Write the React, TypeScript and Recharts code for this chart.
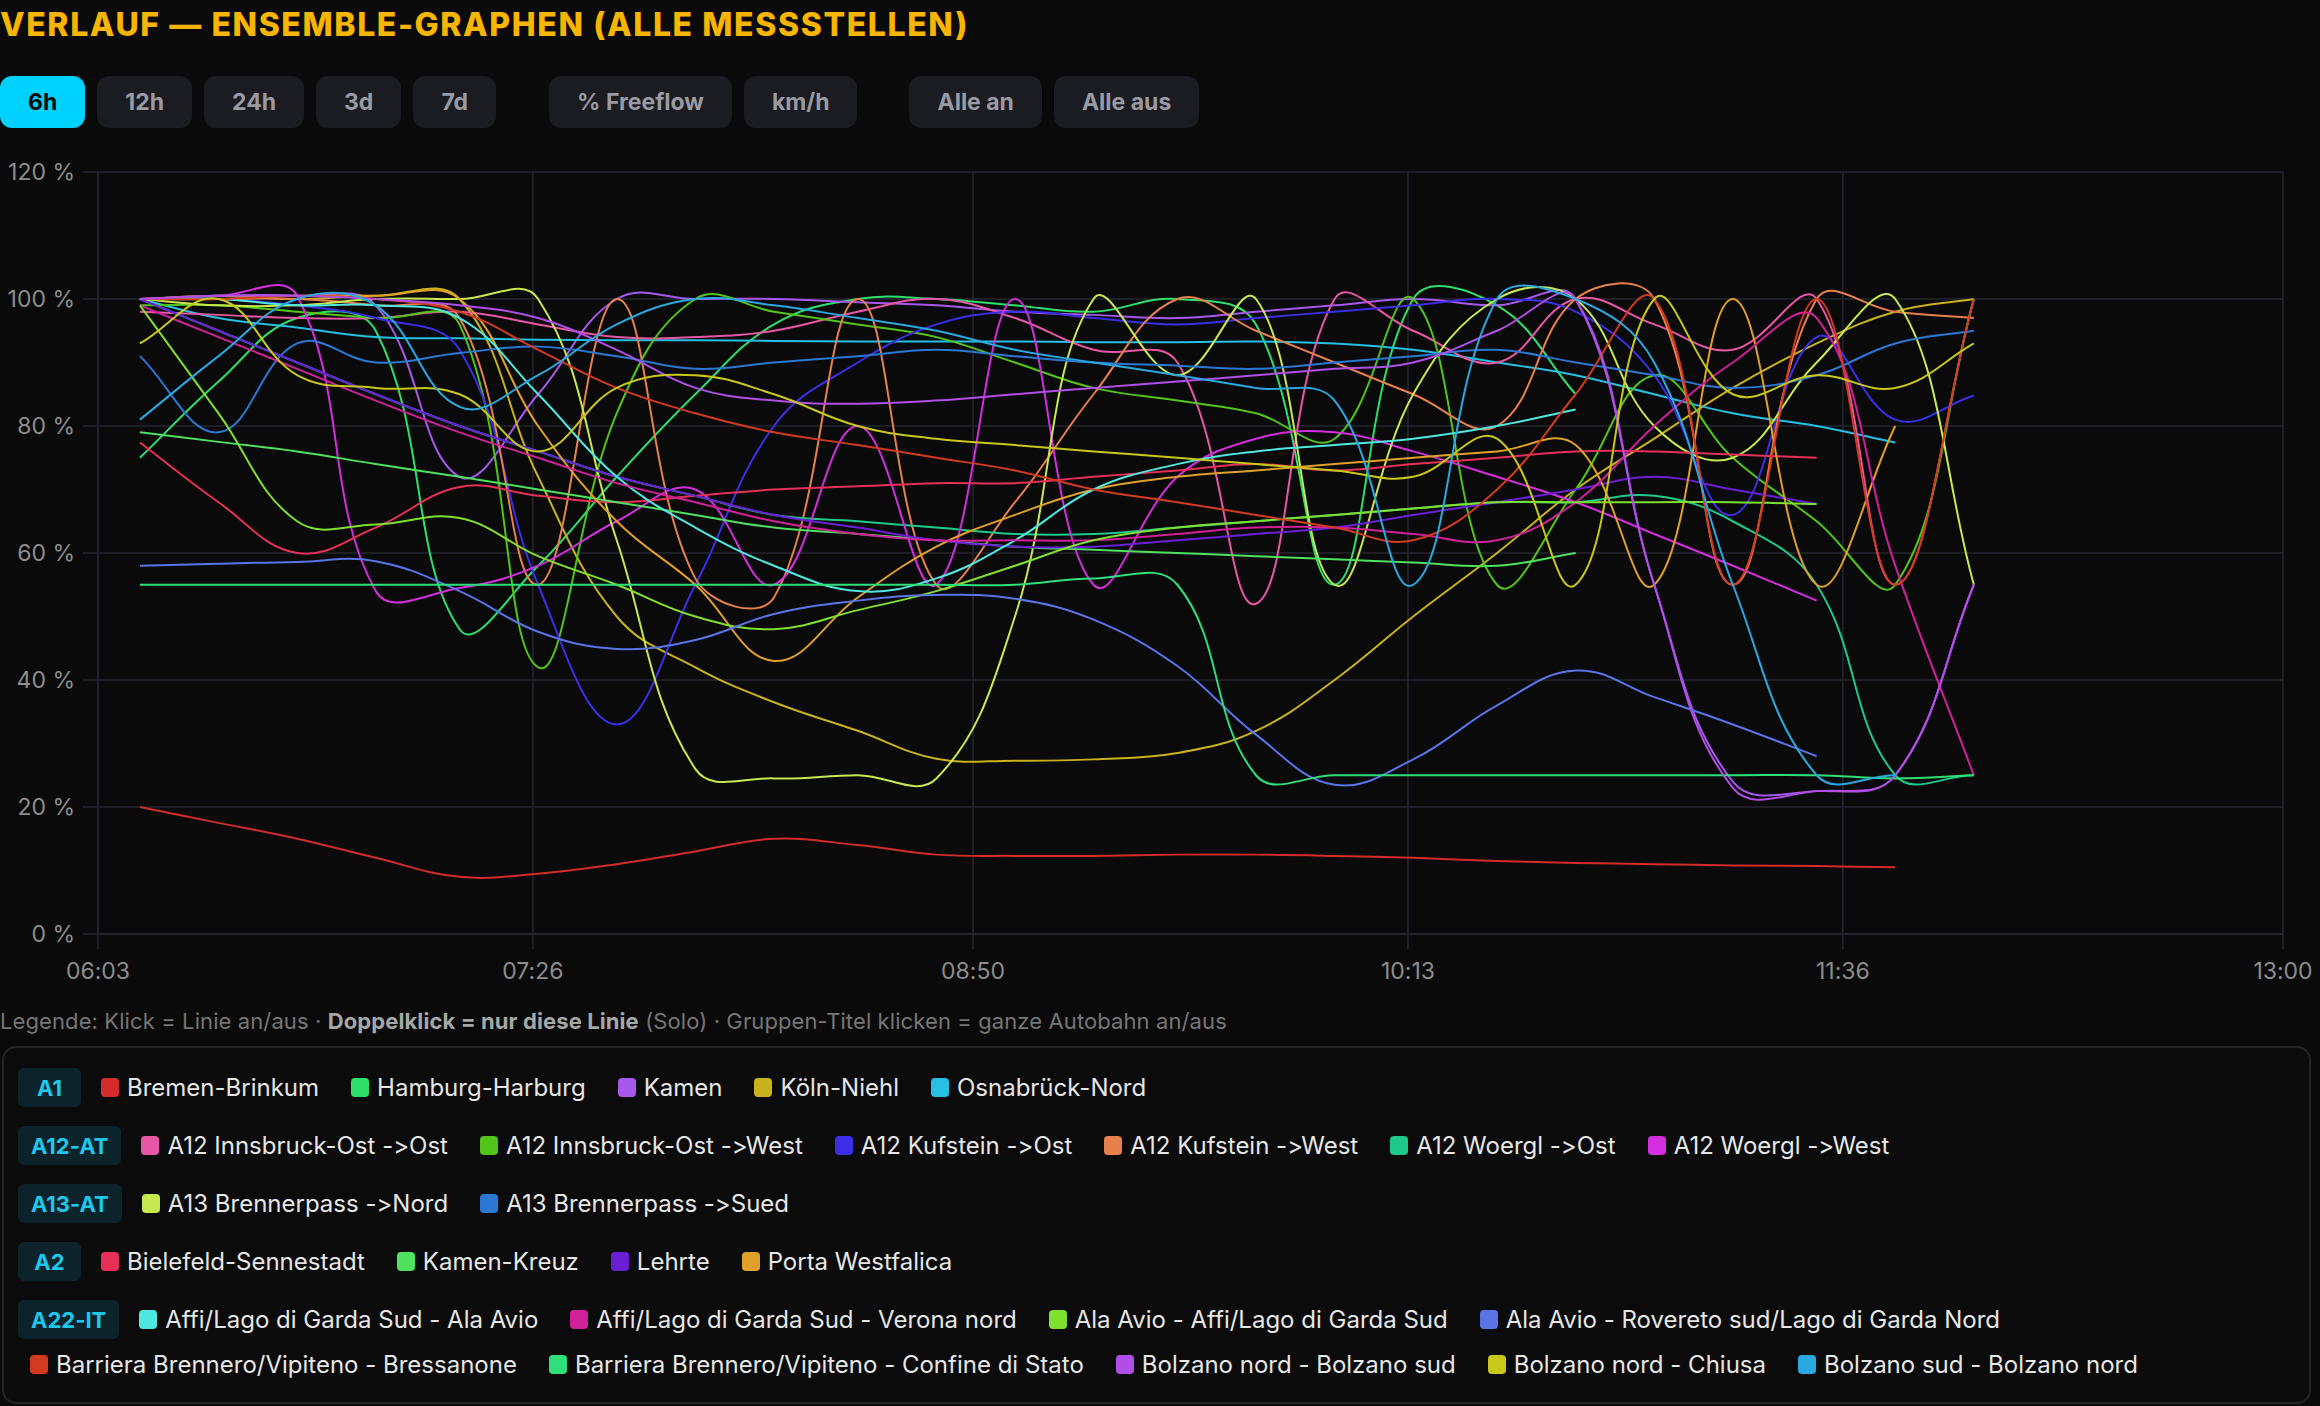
import React from "react";
import { LineChart, Line, XAxis, YAxis, CartesianGrid } from "recharts";

// Messzeitpunkte (6h-Fenster)
const times = ["06:11","06:26","06:41","06:56","07:12","07:27","07:42","07:57","08:12","08:28","08:43","08:58","09:13","09:29","09:44","09:59","10:14","10:30","10:45","11:00","11:15","11:31","11:46","12:01"];
const xTickLabels = ["06:03", "07:26", "08:50", "10:13", "11:36", "13:00"];
const yTicks = [0, 20, 40, 60, 80, 100, 120];

// % Freeflow je Messstelle
const bremenBrinkum = [20,17.5,15,12,9,9.5,11,13,15,14,12.5,12.3,12.3,12.5,12.5,12.3,12,11.5,11.2,11,10.8,10.7,10.5,null];
const hamburgHarburg = [75,87,97,95,48,58,72,85,96,100,100,99,98,100,96,55,100,99,85,null,null,null,null,null];
const kamen = [100,100.5,100.5,99,72,85,100,100,100,99.5,99,98,97.5,97,98,99,100,99,100,55,24,22.5,25,55];
const koelnNiehl = [100,100.5,100,100.5,100,72,50,42,36.5,32,27.6,27.3,27.5,28.5,32,40,50,60,70,78,86,93,98,100];
const osnabrueckNord = [100,97,95.5,94,93.8,93.6,93.5,93.5,93.4,93.3,93.3,93.3,93.2,93.2,93.3,93,92,90,88,85,82,80,77.4,null];
const innsbruckOst = [98,97.5,97,97,98,96,94,94,95,98,100,97,92,90,52,100,95,90,100,96,92,100,55,100];
const innsbruckWest = [99,99,98,97,96,42,82,100,98,96,94,90,86,84,82,78,100,55,70,88,75,65,55,100];
const kufsteinOst = [100,100,99,97,92,55,33,55,80,90,96,98,97,96,97,98,99,100,98,88,66,94,81,84.8];
const kufsteinWest = [100,100,100,99,97,55,100,56,53,100,55,68,85,100,95,90,85,80,100,100,55,100,98,97];
const woerglOst = [100,95,90,85,80,76,72,69,66,65,64,63,63,64,65,66,67,68,68,69,65,55,25,25];
const woerglWest = [100,100.5,100.5,54,54.5,58,65,70,55,80,55,100,55,72,78,79,76,72,68,63,58,52.5,null,null];
const brennerNord = [100,99,99,100,100,100,62,26,24.5,25,24.5,50,100,88,100,55,85,100,100,80,75,90,100,55];
const brennerSued = [91,79,93,90,91.5,92.5,91,89,90,91,92,91,90,89.5,89,90,91,92,90,88,86,88,93,95];
const bielefeld = [77.4,68,60,64,70.4,69,68,69,70,70.5,71,71,72,73,74,73,74,75,76,76,75.5,75,null,null];
const kamenKreuz = [79,77.5,76,74,72,70,68,66,64,63,62,61,60.5,60,59.5,59,58.5,58,60,null,null,null,null,null];
const lehrte = [100,95,90,85,80,76,72,69,66,64,62,61,61,62,63,64,66,68,70,72,70,67.7,null,null];
const portaWestfalica = [100,100,100.5,100.5,100,80,65,55,43,53,61,66,70,72,73,74,75,76,77,55,100,55,80,null];
const affiAla = [100,100,99,99,97,85,72,64,58,54,56,62,70,74,76,77,78,80,82.6,null,null,null,null,null];
const affiVerona = [99,94,89,84,79,75,71,68,65,63,62,62,62,63,64,64,63,62,68,80,90,97,58,25];
const alaAffi = [99,82,65,64.5,65.5,59.5,55,50,48,51,54,58,62,64,65,66,67,68,68,68,68,67.7,null,null];
const alaRovereto = [58,58.3,58.6,58.7,54,47.6,44.9,46.3,50.4,52.5,53.4,52.8,49.5,42.2,31.4,23.5,27.5,36,41.5,37.3,33,28,null,null];
const bressanone = [100,100,100.5,100,98,92,86,82,79,77,75,73,70,68,66,64,62,70,85,100,55,100,55,100];
const confineDiStato = [55,55,55,55,55,55,55,55,55,55,55,55,56,55,25,25,25,25,25,25,25,25,24.5,25];
const bolzanoNordSud = [100,100.5,100.5,100,99,97,92,86,84,83.5,84,85,86,87,88,89,90,95,100,55,23,22.5,25,55];
const bolzanoChiusa = [93,100,88,86,85,76,86,88,85,80,78,77,76,75,74,73,72,78,55,100,85,88,86,93];
const bolzanoSudNord = [81,91,100,99,83,88,96,100,99,97,95,92,90,88,86,84,55,100,100,90,55,25,25,null];

const groups = ["A1", "A12-AT", "A13-AT", "A2", "A22-IT"];

const series = [
  { name: "Bremen-Brinkum", group: "A1", color: "#d42b2b", values: bremenBrinkum },
  { name: "Hamburg-Harburg", group: "A1", color: "#2edf6c", values: hamburgHarburg },
  { name: "Kamen", group: "A1", color: "#a658ec", values: kamen },
  { name: "Köln-Niehl", group: "A1", color: "#c9b21c", values: koelnNiehl },
  { name: "Osnabrück-Nord", group: "A1", color: "#26c0e2", values: osnabrueckNord },
  { name: "A12 Innsbruck-Ost ->Ost", group: "A12-AT", color: "#e857a6", values: innsbruckOst },
  { name: "A12 Innsbruck-Ost ->West", group: "A12-AT", color: "#52c41a", values: innsbruckWest },
  { name: "A12 Kufstein ->Ost", group: "A12-AT", color: "#3b2ee6", values: kufsteinOst },
  { name: "A12 Kufstein ->West", group: "A12-AT", color: "#e8804d", values: kufsteinWest },
  { name: "A12 Woergl ->Ost", group: "A12-AT", color: "#1ec98a", values: woerglOst },
  { name: "A12 Woergl ->West", group: "A12-AT", color: "#d42ee0", values: woerglWest },
  { name: "A13 Brennerpass ->Nord", group: "A13-AT", color: "#c8e84f", values: brennerNord },
  { name: "A13 Brennerpass ->Sued", group: "A13-AT", color: "#2b78d4", values: brennerSued },
  { name: "Bielefeld-Sennestadt", group: "A2", color: "#e6305a", values: bielefeld },
  { name: "Kamen-Kreuz", group: "A2", color: "#4fe060", values: kamenKreuz },
  { name: "Lehrte", group: "A2", color: "#6a1fd6", values: lehrte },
  { name: "Porta Westfalica", group: "A2", color: "#e0a02a", values: portaWestfalica },
  { name: "Affi/Lago di Garda Sud - Ala Avio", group: "A22-IT", color: "#4fe8e0", values: affiAla },
  { name: "Affi/Lago di Garda Sud - Verona nord", group: "A22-IT", color: "#d0209a", values: affiVerona },
  { name: "Ala Avio - Affi/Lago di Garda Sud", group: "A22-IT", color: "#7fe030", values: alaAffi },
  { name: "Ala Avio - Rovereto sud/Lago di Garda Nord", group: "A22-IT", color: "#5a74e8", values: alaRovereto },
  { name: "Barriera Brennero/Vipiteno - Bressanone", group: "A22-IT", color: "#d23a22", values: bressanone },
  { name: "Barriera Brennero/Vipiteno - Confine di Stato", group: "A22-IT", color: "#2ee07a", values: confineDiStato },
  { name: "Bolzano nord - Bolzano sud", group: "A22-IT", color: "#b04ee8", values: bolzanoNordSud },
  { name: "Bolzano nord - Chiusa", group: "A22-IT", color: "#c8c81a", values: bolzanoChiusa },
  { name: "Bolzano sud - Bolzano nord", group: "A22-IT", color: "#2aa8e0", values: bolzanoSudNord },
];

const rangeButtons = ["6h", "12h", "24h", "3d", "7d"];
const unitButtons = ["% Freeflow", "km/h"];
const toggleButtons = ["Alle an", "Alle aus"];

const toMin = (s: string) => {
  const [h, m] = s.split(":").map(Number);
  return h * 60 + m;
};
const fmtMin = (v: number) => {
  const h = Math.floor(v / 60);
  const m = Math.round(v - h * 60);
  return `${String(h).padStart(2, "0")}:${String(m).padStart(2, "0")}`;
};

const rows = times.map((t, i) => {
  const row: Record<string, number | null> = { t: toMin(t) };
  series.forEach((s, j) => {
    row[`s${j}`] = s.values[i];
  });
  return row;
});

// bezier spline with tension, like the smoothing in the original dashboard
function tensionCurve(tension: number) {
  return (context: any) => {
    let pts: [number, number][] = [];
    return {
      areaStart() {},
      areaEnd() {},
      lineStart() {
        pts = [];
      },
      point(x: number, y: number) {
        pts.push([+x, +y]);
      },
      lineEnd() {
        const n = pts.length;
        if (!n) return;
        context.moveTo(pts[0][0], pts[0][1]);
        if (n === 1) return;
        const cp = pts.map((cur, i) => {
          const prev = pts[i - 1] || cur;
          const next = pts[i + 1] || cur;
          const d01 = Math.hypot(cur[0] - prev[0], cur[1] - prev[1]);
          const d12 = Math.hypot(next[0] - cur[0], next[1] - cur[1]);
          let s01 = d01 / (d01 + d12);
          let s12 = d12 / (d01 + d12);
          if (isNaN(s01)) s01 = 0;
          if (isNaN(s12)) s12 = 0;
          const fa = tension * s01;
          const fb = tension * s12;
          return {
            before: [cur[0] - fa * (next[0] - prev[0]), cur[1] - fa * (next[1] - prev[1])],
            after: [cur[0] + fb * (next[0] - prev[0]), cur[1] + fb * (next[1] - prev[1])],
          };
        });
        for (let i = 0; i < n - 1; i++) {
          const a = cp[i].after;
          const b = cp[i + 1].before;
          context.bezierCurveTo(a[0], a[1], b[0], b[1], pts[i + 1][0], pts[i + 1][1]);
        }
      },
    };
  };
}
const smooth = tensionCurve(0.4);

const FONT = "Inter, 'Noto Sans', sans-serif";
const NO_CALT = '"calt" 0, "liga" 0';
const GRID = "#262631";

function Btn({ label, active }: { label: string; active?: boolean }) {
  return (
    <div
      style={{
        height: 52,
        padding: "0 28px",
        borderRadius: 12,
        display: "flex",
        alignItems: "center",
        fontSize: 23,
        fontWeight: 700,
        background: active ? "#00d2ff" : "#1b1c22",
        color: active ? "#050505" : "#9a9aa2",
        marginRight: 12,
      }}
    >
      {label}
    </div>
  );
}

export default function App() {
  return (
    <div
      style={{
        position: "relative",
        width: 2320,
        height: 1406,
        background: "#0a0a0a",
        fontFamily: FONT,
        fontFeatureSettings: NO_CALT,
        overflow: "hidden",
      }}
    >
      <style>{`body{margin:0;background:#0a0a0a}`}</style>

      <div
        style={{
          position: "absolute",
          left: 0,
          top: 9,
          fontSize: 32,
          lineHeight: "32px",
          fontWeight: 800,
          color: "#f7b500",
          letterSpacing: 1.6,
          whiteSpace: "nowrap",
        }}
      >
        VERLAUF — ENSEMBLE-GRAPHEN (ALLE MESSSTELLEN)
      </div>

      <div style={{ position: "absolute", left: 0, top: 76, display: "flex" }}>
        {rangeButtons.map((b, i) => (
          <Btn key={b} label={b} active={i === 0} />
        ))}
        <div style={{ width: 41 }} />
        {unitButtons.map((b) => (
          <Btn key={b} label={b} />
        ))}
        <div style={{ width: 40 }} />
        {toggleButtons.map((b) => (
          <Btn key={b} label={b} />
        ))}
      </div>

      <div style={{ position: "absolute", left: 0, top: 150 }}>
        <LineChart width={2320} height={834} data={rows} margin={{ top: 22, right: 37, left: 0, bottom: 0 }}>
          <CartesianGrid stroke={GRID} strokeWidth={1.5} />
          <XAxis
            dataKey="t"
            type="number"
            domain={[toMin(xTickLabels[0]), toMin(xTickLabels[xTickLabels.length - 1])]}
            ticks={xTickLabels.map(toMin)}
            tickFormatter={fmtMin}
            height={50}
            tickSize={15}
            tickMargin={14}
            stroke={GRID}
            strokeWidth={1.5}
            tick={{ fill: "#8d8d8d", fontSize: 23, fontFamily: FONT }}
          />
          <YAxis
            domain={[0, 120]}
            ticks={yTicks}
            tickFormatter={(v: number) => `${v} %`}
            width={98}
            tickSize={15}
            tickMargin={8}
            stroke={GRID}
            strokeWidth={1.5}
            tick={{ fill: "#8d8d8d", fontSize: 23, fontFamily: FONT }}
          />
          {series.map((s, j) => (
            <Line
              key={s.name}
              dataKey={`s${j}`}
              type={smooth as any}
              stroke={s.color}
              strokeWidth={2}
              dot={false}
              activeDot={false}
              isAnimationActive={false}
            />
          ))}
        </LineChart>
      </div>

      <div
        style={{
          position: "absolute",
          left: 0,
          top: 1007,
          fontSize: 22,
          lineHeight: "28px",
          letterSpacing: 0.1,
          color: "#767676",
          whiteSpace: "nowrap",
        }}
      >
        Legende: Klick = Linie an/aus ·{" "}
        <span style={{ fontWeight: 700, color: "#a6a6a6" }}>Doppelklick = nur diese Linie</span> (Solo) ·
        Gruppen-Titel klicken = ganze Autobahn an/aus
      </div>

      <div
        style={{
          position: "absolute",
          left: 2,
          top: 1046,
          width: 2309,
          height: 358,
          boxSizing: "border-box",
          border: "2px solid #242424",
          borderRadius: 14,
          background: "#0b0b0b",
          padding: "20px 14px 14px 14px",
        }}
      >
        {groups.map((g) => (
          <div
            key={g}
            style={{
              display: "flex",
              flexWrap: "wrap",
              alignItems: "center",
              columnGap: 8,
              rowGap: 6,
              marginBottom: 19,
            }}
          >
            <div
              style={{
                height: 39,
                minWidth: 63,
                boxSizing: "border-box",
                padding: "0 13px",
                borderRadius: 6,
                background: "#0d232b",
                color: "#1ec8ec",
                fontWeight: 700,
                fontSize: 22,
                display: "flex",
                alignItems: "center",
                justifyContent: "center",
              }}
            >
              {g}
            </div>
            {series
              .filter((s) => s.group === g)
              .map((s) => (
                <div
                  key={s.name}
                  style={{ height: 38, padding: "0 12px", display: "flex", alignItems: "center", gap: 8 }}
                >
                  <span style={{ width: 18, height: 19, borderRadius: 4, background: s.color, display: "inline-block" }} />
                  <span style={{ color: "#e6e6e6", fontSize: 24, whiteSpace: "nowrap" }}>{s.name}</span>
                </div>
              ))}
          </div>
        ))}
      </div>
    </div>
  );
}
